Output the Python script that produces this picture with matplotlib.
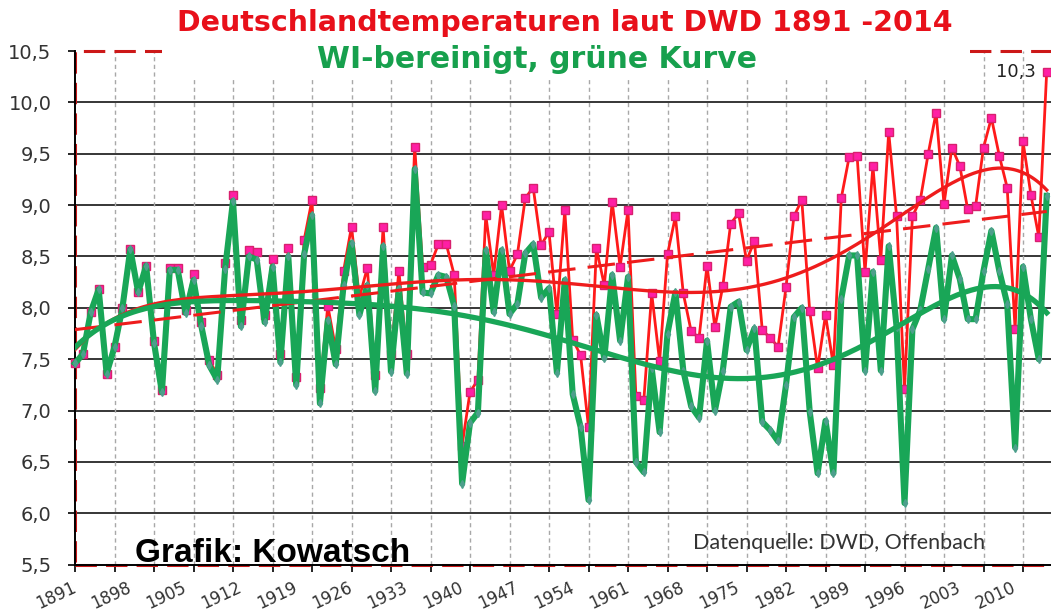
import numpy as np
import matplotlib
matplotlib.use("Agg")
import matplotlib.pyplot as plt
from matplotlib.patches import Rectangle
from matplotlib.ticker import FuncFormatter
from matplotlib.transforms import blended_transform_factory, offset_copy

# ---------------- data ----------------
first_year = 1891
last_year = 2014

dwd_temp = [
    7.46, 7.55, 7.96, 8.18, 7.36, 7.62, 8.00, 8.57, 8.15, 8.41,   # 1891-1900
    7.68, 7.20, 8.39, 8.39, 7.98, 8.33, 7.86, 7.49, 7.35, 8.44,   # 1901-1910
    9.10, 7.88, 8.56, 8.54, 7.93, 8.48, 7.55, 8.58, 7.33, 8.66,   # 1911-1920
    9.05, 7.22, 8.02, 7.60, 8.36, 8.79, 8.10, 8.39, 7.35, 8.79,   # 1921-1930
    7.55, 8.36, 7.55, 9.57, 8.40, 8.42, 8.62, 8.62, 8.32, 6.66,   # 1931-1940
    7.18, 7.30, 8.90, 8.32, 9.00, 8.36, 8.52, 9.07, 9.17, 8.61,   # 1941-1950
    8.74, 7.94, 8.95, 7.69, 7.54, 6.84, 8.58, 8.22, 9.03, 8.40,   # 1951-1960
    8.95, 7.14, 7.10, 8.14, 7.48, 8.52, 8.89, 8.14, 7.77, 7.71,   # 1961-1970
    8.41, 7.81, 8.21, 8.82, 8.92, 8.46, 8.65, 7.78, 7.71, 7.62,   # 1971-1980
    8.20, 8.89, 9.05, 7.97, 7.41, 7.93, 7.44, 9.07, 9.47, 9.48,   # 1981-1990
    8.35, 9.38, 8.47, 9.71, 8.89, 7.21, 8.89, 9.05, 9.50, 9.90,   # 1991-2000
    9.01, 9.56, 9.38, 8.96, 8.99, 9.56, 9.85, 9.48, 9.17, 7.79,   # 2001-2010
    9.62, 9.10, 8.69, 10.30,                                      # 2011-2014
]

wi_corrected = [
    7.46, 7.55, 7.96, 8.18, 7.36, 7.62, 8.00, 8.57, 8.15, 8.41,
    7.66, 7.18, 8.37, 8.37, 7.95, 8.27, 7.82, 7.44, 7.30, 8.38,
    9.04, 7.82, 8.50, 8.47, 7.86, 8.40, 7.47, 8.50, 7.25, 8.52,
    8.90, 7.07, 7.88, 7.45, 8.22, 8.63, 7.93, 8.22, 7.19, 8.60,
    7.38, 8.19, 7.36, 9.35, 8.15, 8.14, 8.32, 8.30, 8.02, 6.29,
    6.88, 6.98, 8.56, 7.96, 8.56, 7.94, 8.04, 8.53, 8.62, 8.10,
    8.19, 7.37, 8.27, 7.16, 6.84, 6.13, 7.93, 7.51, 8.32, 7.68,
    8.30, 6.50, 6.40, 7.41, 6.79, 7.75, 8.15, 7.39, 7.04, 6.93,
    7.68, 7.00, 7.39, 8.01, 8.06, 7.59, 7.80, 6.89, 6.81, 6.70,
    7.25, 7.91, 8.00, 6.99, 6.39, 6.90, 6.39, 8.09, 8.51, 8.51,
    7.39, 8.35, 7.39, 8.60, 7.81, 6.10, 7.79, 7.98, 8.38, 8.78,
    7.89, 8.51, 8.28, 7.89, 7.89, 8.36, 8.75, 8.36, 8.04, 6.64,
    8.40, 7.89, 7.50, 9.09,
]

y_ticks = [5.5, 6.0, 6.5, 7.0, 7.5, 8.0, 8.5, 9.0, 9.5, 10.0, 10.5]
x_label_years = list(range(1891, 2011, 7))
x_tick_years = list(range(1891, 2014, 5))

title_1 = "Deutschlandtemperaturen laut DWD 1891 -2014"
title_2 = "WI-bereinigt, grüne Kurve"
credit = "Grafik: Kowatsch"
source = "Datenquelle: DWD, Offenbach"
last_label = "10,3"

# ---------------- derived ----------------
years = np.arange(first_year, last_year + 1)
red = np.array(dwd_temp)
green = np.array(wi_corrected)

red_poly = np.polynomial.Polynomial.fit(years, red, 6)
green_poly = np.polynomial.Polynomial.fit(years, green, 6)
red_lin = np.polynomial.Polynomial.fit(years, red, 1)
xs = np.linspace(first_year, last_year, 400)

# ---------------- figure ----------------
W, H = 1051, 616
fig = plt.figure(figsize=(W / 100, H / 100), dpi=100)
left_px, right_px, top_px, bot_px = 75, 1051, 51, 564.7
ax = fig.add_axes([left_px / W, (H - bot_px) / H, (right_px - left_px) / W, (bot_px - top_px) / H])
ax.set_xlim(first_year, first_year + (right_px - left_px) / 7.9)
ax.set_ylim(5.5, 10.5)

# grid
for v in y_ticks[1:-1]:
    ax.axhline(v, color="black", lw=1.1, zorder=1)
for yr in x_tick_years[1:]:
    ax.axvline(yr, color="#a8a8a8", lw=1.0, ls=(0, (3, 2.5)), zorder=1)

# red dashed plot-area border
ax.add_patch(Rectangle((0, 0), 1.02, 1.0, transform=ax.transAxes, fill=False,
                       edgecolor="#cc1818", lw=2.2, ls=(0, (7, 3)), clip_on=False, zorder=2))

for s in ["top", "right"]:
    ax.spines[s].set_visible(False)
for s in ["left", "bottom"]:
    ax.spines[s].set_color("black")
    ax.spines[s].set_linewidth(1.4)
    ax.spines[s].set_zorder(2.4)

# white title box hiding the upper part of the grid
ax.add_patch(Rectangle((0.089, 0.9455), 0.828, 0.12, transform=ax.transAxes,
                       facecolor="white", edgecolor="none", clip_on=False, zorder=2.6))

# series
ax.plot(years, red, color="#ff1a1a", lw=2.0, marker="s", ms=5.5,
        mfc="#ff1fa5", mec="#d8206e", mew=1.0, zorder=3, clip_on=False)
ax.plot(years, green, color="#19a657", lw=4.4, marker="d", ms=4.0,
        mfc="#4d9f8c", mec="#4d9f8c", zorder=4, clip_on=False)

# trend lines
ax.plot(xs, red_lin(xs), color="#ee1c1c", lw=2.2, ls=(0, (9, 4)), zorder=5)
ax.plot(xs, red_poly(xs), color="#ee1c1c", lw=2.4, zorder=5)
ax.plot(xs, green_poly(xs), color="#19a657", lw=3.8, zorder=5)

# y ticks
ax.set_yticks(y_ticks)
ax.yaxis.set_major_formatter(FuncFormatter(lambda v, p: f"{v:.1f}".replace(".", ",")))
ax.tick_params(axis="y", direction="out", length=5, width=1.2, color="black",
               labelsize=14, labelcolor="#333333", pad=12)
for lab in ax.get_yticklabels():
    lab.set_fontfamily("DejaVu Sans")

# x ticks (every 5 years, no labels) + rotated year labels every 7 years
ax.set_xticks(x_tick_years)
ax.set_xticklabels([""] * len(x_tick_years))
ax.tick_params(axis="x", which="major", direction="out", length=5, width=1.2, color="black")
trans = offset_copy(blended_transform_factory(ax.transData, ax.transAxes),
                    fig=fig, x=0, y=-22, units="dots")
for yr in x_label_years:
    ax.text(yr, 0, str(yr), transform=trans, rotation=25, rotation_mode="anchor",
            ha="right", va="center", fontsize=12, color="#333333",
            family="DejaVu Sans", clip_on=False)

# annotations
ax.annotate(last_label, xy=(years[-1], red[-1]), xytext=(-8, 0), textcoords="offset points",
            ha="right", va="center", fontsize=13, color="#222222", zorder=6)

fig.text(565 / W, 1 - 23 / H, title_1, color="#e8101a", fontsize=20.5, fontweight="bold",
         ha="center", va="center", family="DejaVu Sans", zorder=10)
fig.text(537 / W, 1 - 60 / H, title_2, color="#17a04d", fontsize=21.5, fontweight="bold",
         ha="center", va="center", family="DejaVu Sans", zorder=10)
fig.text(135 / W, 1 - 553 / H, credit, color="black", fontsize=24, fontweight="bold",
         ha="left", va="center", family="Liberation Sans", zorder=10)
fig.text(693 / W, 1 - 543 / H, source, color="#333333", fontsize=15.5,
         ha="left", va="center", family="Lato", zorder=10)

fig.savefig("out.png", dpi=100)
